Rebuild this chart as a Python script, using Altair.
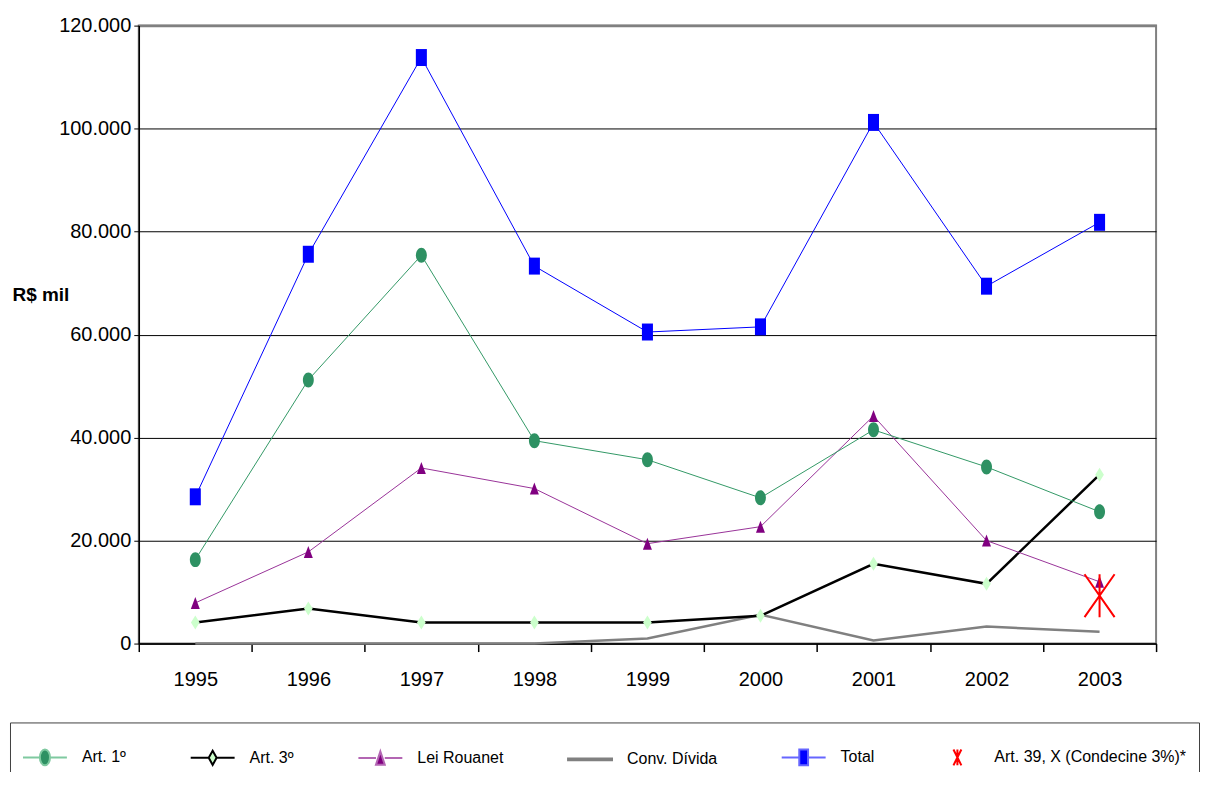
import altair as alt
import pandas as pd

anos = ["1995", "1996", "1997", "1998", "1999", "2000", "2001", "2002", "2003"]
art1 = [16300, 51200, 75400, 39400, 35700, 28300, 41500, 34300, 25600]
art3 = [4100, 6800, 4100, 4100, 4100, 5400, 15500, 11600, 32800]
rouanet = [7900, 17800, 34100, 30100, 19400, 22700, 44200, 20000, 12000]
conv = [0, 0, 0, 0, 1000, 5600, 600, 3300, 2300]
total = [28500, 75600, 113800, 73300, 60500, 61500, 101200, 69400, 81800]
art39_anos = ["2003"]
art39 = [9300]

series = ["Art. 1º", "Art. 3º", "Lei Rouanet", "Conv. Dívida", "Total", "Art. 39, X (Condecine 3%)*"]
y_ticks = [0, 20000, 40000, 60000, 80000, 100000, 120000]

rows = []
for nome, vals in [("Art. 1º", art1), ("Art. 3º", art3), ("Lei Rouanet", rouanet),
                   ("Conv. Dívida", conv), ("Total", total)]:
    for a, v in zip(anos, vals):
        rows.append({"ano": a, "valor": v, "serie": nome})
for a, v in zip(art39_anos, art39):
    rows.append({"ano": a, "valor": v, "serie": series[5]})
df = pd.DataFrame(rows)

REG = "Liberation Sans, Arial, sans-serif"

x_enc = alt.X("ano:N", bandPosition=0.5,
              scale=alt.Scale(type="band", domain=anos, paddingInner=0, paddingOuter=0),
              axis=alt.Axis(title=None, labelAngle=0, tickBand="extent", tickSize=8,
                            tickColor="black", domainColor="black", domainWidth=1.5,
                            tickWidth=1.5, labelPadding=18, labelFont=REG, labelFontSize=20,
                            labelColor="black", grid=False))
y_enc = alt.Y("valor:Q",
              scale=alt.Scale(domain=[0, 120000], nice=False, zero=True),
              axis=alt.Axis(values=y_ticks,
                            labelExpr="replace(format(datum.value, ','), ',', '.')",
                            grid=True,
                            gridColor={"condition": {"test": "datum.value == 120000", "value": "#808080"}, "value": "#000000"},
                            gridWidth={"condition": {"test": "datum.value == 120000", "value": 2.5}, "value": 1},
                            domainColor="black", domainWidth=1.5, tickColor="black", tickSize=5,
                            labelFont=REG, labelFontSize=20, labelColor="black", labelPadding=3,
                            title="R$ mil", titleAngle=0, titleAlign="left", titleBaseline="middle",
                            titleX=-127, titleY=269, titleFont=REG, titleFontSize=19,
                            titleFontWeight="bold", titleColor="black"))

base = alt.Chart(df)

ELLIPSE = "M0,-1A0.73,1 0 1,1 0,1A0.73,1 0 1,1 0,-1Z"
DIAMOND = "M0,-1L0.62,0L0,1L-0.62,0Z"
TRIANGLE = "M0,-1L0.75,1L-0.75,1Z"
RECT = "M-0.65,-1H0.65V1H-0.65Z"
ASTER = "M-0.7,-1L0.7,1M0.7,-1L-0.7,1M0,-1L0,1"

specs = [
    # name, line color, line width, marker path, size, marker fill
    ("Conv. Dívida", "#808080", 2.5, None, None, None),
    ("Art. 3º", "#000000", 2.5, DIAMOND, 196, "#CCFFCC"),
    ("Lei Rouanet", "#993399", 1, TRIANGLE, 144, "#800080"),
    ("Art. 1º", "#339966", 1, ELLIPSE, 225, "#2E9163"),
    ("Total", "#0000FF", 1, RECT, 289, "#0000FF"),
]

layers = []
for nome, lc, lw, path, size, mfill in specs:
    flt = alt.datum.serie == nome
    layers.append(base.mark_line(color=lc, strokeWidth=lw).encode(x=x_enc, y=y_enc).transform_filter(flt))
for nome, lc, lw, path, size, mfill in specs:
    if path is None:
        continue
    flt = alt.datum.serie == nome
    layers.append(base.mark_point(shape=path, size=size, filled=True, fill=mfill,
                                  strokeWidth=0, opacity=1)
                  .encode(x=x_enc, y=y_enc).transform_filter(flt))
layers.append(base.mark_point(shape=ASTER, size=1849, filled=False, stroke="#FF0000",
                              strokeWidth=2, opacity=1)
              .encode(x=x_enc, y=y_enc).transform_filter(alt.datum.serie == series[5]))

# legend-only layer (no visible marks)
leg_paths = [
    "M-1,0H-0.23M0.23,0H1M0,-0.36A0.23,0.36 0 1,1 0,0.36A0.23,0.36 0 1,1 0,-0.36Z",
    "M-1,0H-0.18M0.18,0H1M0,-0.32L0.18,0L0,0.32L-0.18,0Z",
    "M-1,0H-0.2M0.2,0H1M0,-0.3L0.2,0.3L-0.2,0.3Z",
    "M-1,0H1M-1,-0.04H1V0.04H-1Z",
    "M-1,0H-0.2M0.2,0H1M-0.2,-0.36H0.2V0.36H-0.2Z",
    "M-0.18,-0.36L0.18,0.36M0.18,-0.36L-0.18,0.36M0,-0.36L0,0.36",
]
leg_stroke = ["#7FC9A0", "#000000", "#B366B3", "#808080", "#6666FF", "#FF0000"]
leg_fill = ["#2E9163", "#CCFFCC", "#800080", "#808080", "#0000FF", "transparent"]

legend = alt.Legend(title=None, orient="none", legendX=-129, legendY=698, direction="horizontal",
                    strokeColor="#404040", padding=12, symbolSize=1936, symbolStrokeWidth=2,
                    labelFont=REG, labelFontSize=16, labelColor="black", labelLimit=400,
                    labelOffset=14, columnPadding=60)

leg_layer = base.mark_point(filled=True, opacity=1, strokeWidth=2).encode(
    x=x_enc, y=y_enc,
    shape=alt.Shape("serie:N", scale=alt.Scale(domain=series, range=leg_paths), legend=legend),
    fill=alt.Fill("serie:N", scale=alt.Scale(domain=series, range=leg_fill), legend=legend),
    stroke=alt.Stroke("serie:N", scale=alt.Scale(domain=series, range=leg_stroke), legend=legend),
).transform_filter("false")
layers.append(leg_layer)

chart = alt.layer(*layers).properties(
    width=1019, height=619,
    autosize=alt.AutoSizeParams(type="none"),
    padding={"left": 131, "top": 17, "right": 45, "bottom": 128},
    background="white",
).configure_view(stroke="#808080", strokeWidth=2)

chart.save("out.html", embed_options={"renderer": "svg", "actions": False})
